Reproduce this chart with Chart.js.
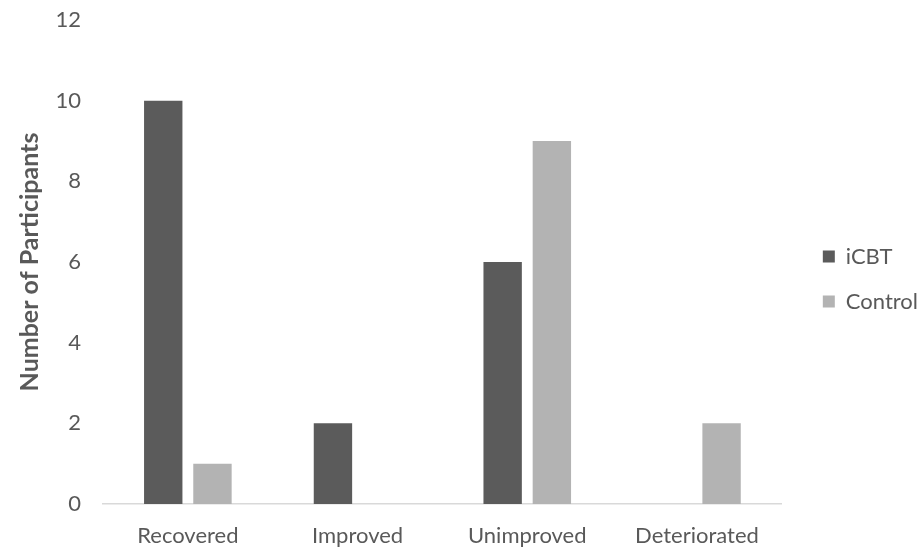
<!DOCTYPE html>
<html>
<head>
<meta charset="utf-8">
<script src="https://cdn.jsdelivr.net/npm/chart.js@4/dist/chart.umd.min.js"></script>
<style>
  html, body { margin: 0; padding: 0; background: #ffffff; }
  #wrap { width: 919px; height: 548px; position: relative; }
</style>
</head>
<body>
<div id="wrap"><canvas id="c" width="919" height="548"></canvas></div>
<script>
// Outcome categories and participant counts per group
const categories = ['Recovered', 'Improved', 'Unimproved', 'Deteriorated'];
const icbtCounts = [10, 2, 6, 0];
const controlCounts = [1, 0, 9, 2];
const yTicks = [0, 2, 4, 6, 8, 10, 12];

const textColor = '#595959';
const fontFamily = 'Lato, "Open Sans", sans-serif';

// Leaves extra white space between the plot and the legend on the right
const legendGap = {
  id: 'legendGap',
  afterLayout(chart) {
    const lg = chart.legend;
    if (lg) {
      lg.left += 18;
      lg.right += 18;
      lg.top += 5;
      lg.bottom += 5;
    }
  }
};

new Chart(document.getElementById('c'), {
  type: 'bar',
  data: {
    labels: categories,
    datasets: [
      { label: 'iCBT', data: icbtCounts, backgroundColor: '#5b5b5b' },
      { label: 'Control', data: controlCounts, backgroundColor: '#b3b3b3' }
    ]
  },
  plugins: [legendGap],
  options: {
    responsive: false,
    animation: false,
    devicePixelRatio: 1,
    categoryPercentage: 0.58,
    barPercentage: 0.78,
    layout: { padding: { top: 0, left: 0, right: 9, bottom: 0 } },
    plugins: {
      tooltip: { enabled: false },
      legend: {
        position: 'right',
        align: 'center',
        labels: {
          color: textColor,
          font: { family: fontFamily, size: 22 },
          boxWidth: 12,
          boxHeight: 12,
          padding: 23
        }
      }
    },
    scales: {
      x: {
        afterFit: (scale) => { scale.height = 44; },
        grid: { display: false, drawTicks: false },
        border: { display: true, color: '#d9d9d9', width: 1.5 },
        ticks: { color: textColor, font: { family: fontFamily, size: 22 }, padding: 19 }
      },
      y: {
        min: 0,
        max: 12,
        afterBuildTicks: (scale) => { scale.ticks = yTicks.map(v => ({ value: v })); },
        afterFit: (scale) => { scale.width = 103; scale.paddingTop = 20; },
        grid: { display: false, drawTicks: false },
        border: { display: false },
        ticks: { color: textColor, font: { family: fontFamily, size: 22 }, padding: 22 },
        title: {
          display: true,
          text: 'Number of Participants',
          color: textColor,
          font: { family: fontFamily, size: 25, weight: 'bold' },
          padding: { top: 15, bottom: 0 }
        }
      }
    }
  }
});
</script>
</body>
</html>
